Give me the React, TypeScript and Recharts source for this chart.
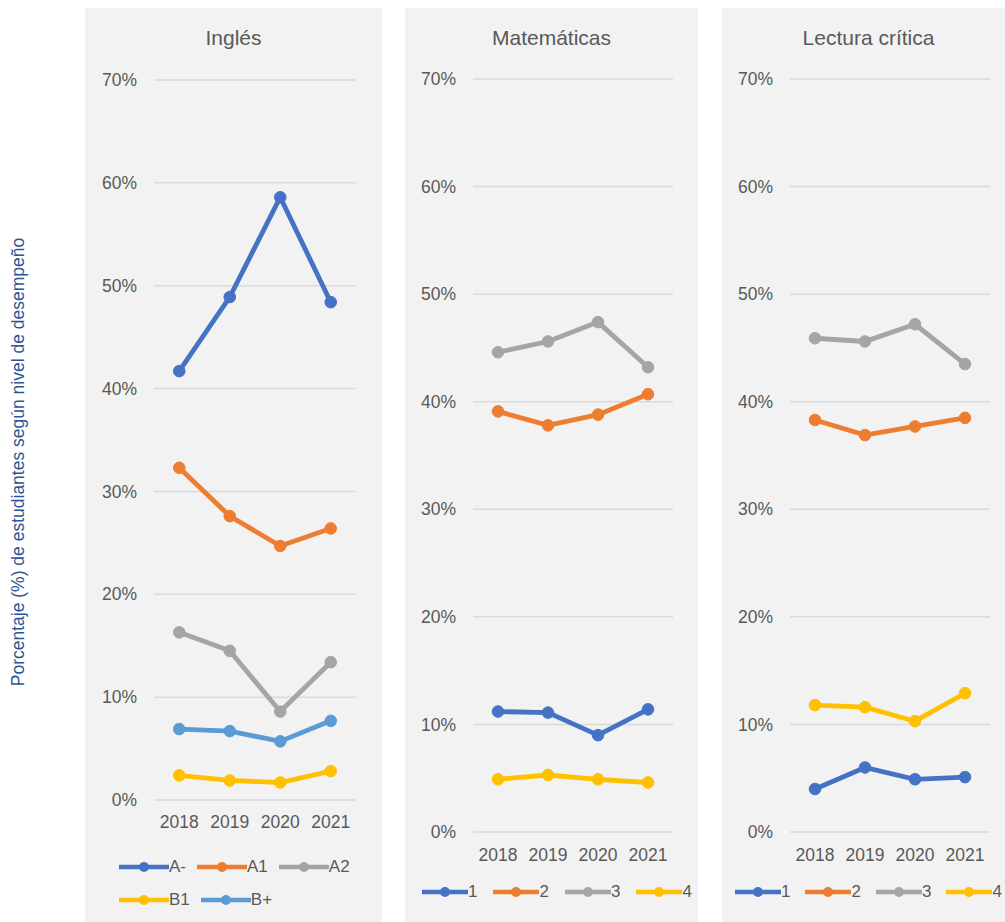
import React from 'react';
import { LineChart, Line, XAxis, YAxis, CartesianGrid, Legend } from 'recharts';

const years = ['2018', '2019', '2020', '2021'];
const yTicks = [0, 10, 20, 30, 40, 50, 60, 70];

// Inglés (niveles A-, A1, A2, B1, B+)
const inglesNames = ['A-', 'A1', 'A2', 'B1', 'B+'];
const inglesAMenos = [41.7, 48.9, 58.6, 48.4];
const inglesA1 = [32.3, 27.6, 24.7, 26.4];
const inglesA2 = [16.3, 14.5, 8.6, 13.4];
const inglesB1 = [2.4, 1.9, 1.7, 2.8];
const inglesBMas = [6.9, 6.7, 5.7, 7.7];

// Matemáticas (niveles 1-4)
const nivelNames = ['1', '2', '3', '4'];
const mat1 = [11.2, 11.1, 9.0, 11.4];
const mat2 = [39.1, 37.8, 38.8, 40.7];
const mat3 = [44.6, 45.6, 47.4, 43.2];
const mat4 = [4.9, 5.3, 4.9, 4.6];

// Lectura crítica (niveles 1-4)
const lec1 = [4.0, 6.0, 4.9, 5.1];
const lec2 = [38.3, 36.9, 37.7, 38.5];
const lec3 = [45.9, 45.6, 47.2, 43.5];
const lec4 = [11.8, 11.6, 10.3, 12.9];

const COLORS = {
  blue: '#4472C4',
  orange: '#ED7D31',
  gray: '#A5A5A5',
  yellow: '#FFC000',
  lightBlue: '#5B9BD5',
};

const TEXT = '#595959';

function buildRows(names: string[], values: number[][]) {
  return years.map((year, i) => {
    const row: Record<string, string | number> = { year };
    names.forEach((n, k) => {
      row[n] = values[k][i];
    });
    return row;
  });
}

const inglesData = buildRows(inglesNames, [inglesAMenos, inglesA1, inglesA2, inglesB1, inglesBMas]);
const matData = buildRows(nivelNames, [mat1, mat2, mat3, mat4]);
const lecData = buildRows(nivelNames, [lec1, lec2, lec3, lec4]);

const inglesColors = [COLORS.blue, COLORS.orange, COLORS.gray, COLORS.yellow, COLORS.lightBlue];
const nivelColors = [COLORS.blue, COLORS.orange, COLORS.gray, COLORS.yellow];

const PANEL_HEIGHT = 914;
const X_AXIS_HEIGHT = 40;

interface PanelProps {
  title: string;
  left: number;
  width: number;
  data: Record<string, string | number>[];
  names: string[];
  colors: string[];
  yAxisWidth: number;
  plotWidth: number;
  plotTop: number;
  plotBottom: number;
  xTickMargin: number;
  legendHeight: number;
  legendPadLeft: number;
  legendPadTop: number;
  legendBoxWidth: number;
  legendRowHeight: number;
  legendGap: number;
  iconWidth: number;
}

function Panel(p: PanelProps) {
  const marginBottom = PANEL_HEIGHT - p.plotBottom - p.legendHeight - X_AXIS_HEIGHT;
  const marginRight = p.width - p.yAxisWidth - p.plotWidth;
  const pad = p.plotWidth / 8;

  // legend keeps the series order (Recharts would sort it by name)
  const renderLegend = (props: any) => {
    const payload: any[] = props.payload || [];
    const ordered = p.names
      .map((n) => payload.find((e) => e.value === n))
      .filter(Boolean);
    return (
      <div
        style={{
          paddingLeft: p.legendPadLeft,
          paddingTop: p.legendPadTop,
          width: p.legendBoxWidth,
          display: 'flex',
          flexWrap: 'wrap',
        }}
      >
        {ordered.map((entry: any) => (
          <div
            key={entry.value}
            style={{ display: 'flex', alignItems: 'center', height: p.legendRowHeight, marginRight: p.legendGap }}
          >
            <svg width={p.iconWidth} height={12}>
              <line x1={0} y1={6} x2={p.iconWidth} y2={6} stroke={entry.color} strokeWidth={4.5} />
              <circle cx={p.iconWidth / 2} cy={6} r={5} fill={entry.color} />
            </svg>
            <span style={{ fontSize: 17, color: TEXT }}>{entry.value}</span>
          </div>
        ))}
      </div>
    );
  };

  return (
    <div
      style={{
        position: 'absolute',
        left: p.left,
        top: 8,
        width: p.width,
        height: PANEL_HEIGHT,
        background: '#F2F2F2',
      }}
    >
      <div
        style={{
          position: 'absolute',
          top: 18,
          left: 0,
          width: p.width,
          textAlign: 'center',
          fontSize: 21,
          lineHeight: '24px',
          color: TEXT,
        }}
      >
        {p.title}
      </div>
      <LineChart
        width={p.width}
        height={PANEL_HEIGHT}
        data={p.data}
        margin={{ top: p.plotTop, right: marginRight, bottom: marginBottom, left: 0 }}
      >
        <CartesianGrid vertical={false} stroke="#D9D9D9" strokeWidth={1.5} />
        <XAxis
          dataKey="year"
          axisLine={false}
          tickLine={false}
          tickSize={0}
          tickMargin={p.xTickMargin}
          height={X_AXIS_HEIGHT}
          padding={{ left: pad, right: pad }}
          tick={{ fontSize: 17.5, fill: TEXT }}
          interval={0}
        />
        <YAxis
          type="number"
          domain={[0, 70]}
          ticks={yTicks}
          width={p.yAxisWidth}
          axisLine={false}
          tickLine={false}
          tickSize={0}
          tickMargin={17}
          tickFormatter={(v: number) => `${v}%`}
          tick={{ fontSize: 17.5, fill: TEXT }}
          interval={0}
        />
        <Legend
          verticalAlign="bottom"
          content={renderLegend}
          wrapperStyle={{ left: 0, width: p.width, height: p.legendHeight }}
        />
        {p.names.map((name, i) => (
          <Line
            key={name}
            type="linear"
            dataKey={name}
            name={name}
            stroke={p.colors[i]}
            strokeWidth={4.8}
            dot={{ r: 5.8, fill: p.colors[i], stroke: p.colors[i], strokeWidth: 1 }}
            activeDot={false}
            isAnimationActive={false}
          />
        ))}
      </LineChart>
    </div>
  );
}

export default function App() {
  return (
    <div
      style={{
        position: 'absolute',
        top: 0,
        left: 0,
        width: 1005,
        height: 922,
        overflow: 'hidden',
        background: '#FFFFFF',
        fontFamily: '"Liberation Sans", Arial, sans-serif',
      }}
    >
      <div
        style={{
          position: 'absolute',
          left: 18,
          top: 462,
          transform: 'translate(-50%, -50%) rotate(-90deg)',
          whiteSpace: 'nowrap',
          fontSize: 17.5,
          color: '#2F5496',
        }}
      >
        Porcentaje (%) de estudiantes según nivel de desempeño
      </div>
      <Panel
        title="Inglés"
        left={85}
        width={297}
        data={inglesData}
        names={inglesNames}
        colors={inglesColors}
        yAxisWidth={69}
        plotWidth={202}
        plotTop={72}
        plotBottom={792}
        xTickMargin={16}
        legendHeight={72}
        legendPadLeft={34}
        legendPadTop={10}
        legendBoxWidth={260}
        legendRowHeight={33}
        legendGap={11}
        iconWidth={50}
      />
      <Panel
        title="Matemáticas"
        left={405}
        width={293}
        data={matData}
        names={nivelNames}
        colors={nivelColors}
        yAxisWidth={68}
        plotWidth={200}
        plotTop={71}
        plotBottom={824}
        xTickMargin={17}
        legendHeight={40}
        legendPadLeft={17}
        legendPadTop={0}
        legendBoxWidth={300}
        legendRowHeight={40}
        legendGap={16}
        iconWidth={46}
      />
      <Panel
        title="Lectura crítica"
        left={722}
        width={293}
        data={lecData}
        names={nivelNames}
        colors={nivelColors}
        yAxisWidth={68}
        plotWidth={200}
        plotTop={71}
        plotBottom={824}
        xTickMargin={17}
        legendHeight={40}
        legendPadLeft={13}
        legendPadTop={0}
        legendBoxWidth={300}
        legendRowHeight={40}
        legendGap={15}
        iconWidth={46}
      />
    </div>
  );
}
